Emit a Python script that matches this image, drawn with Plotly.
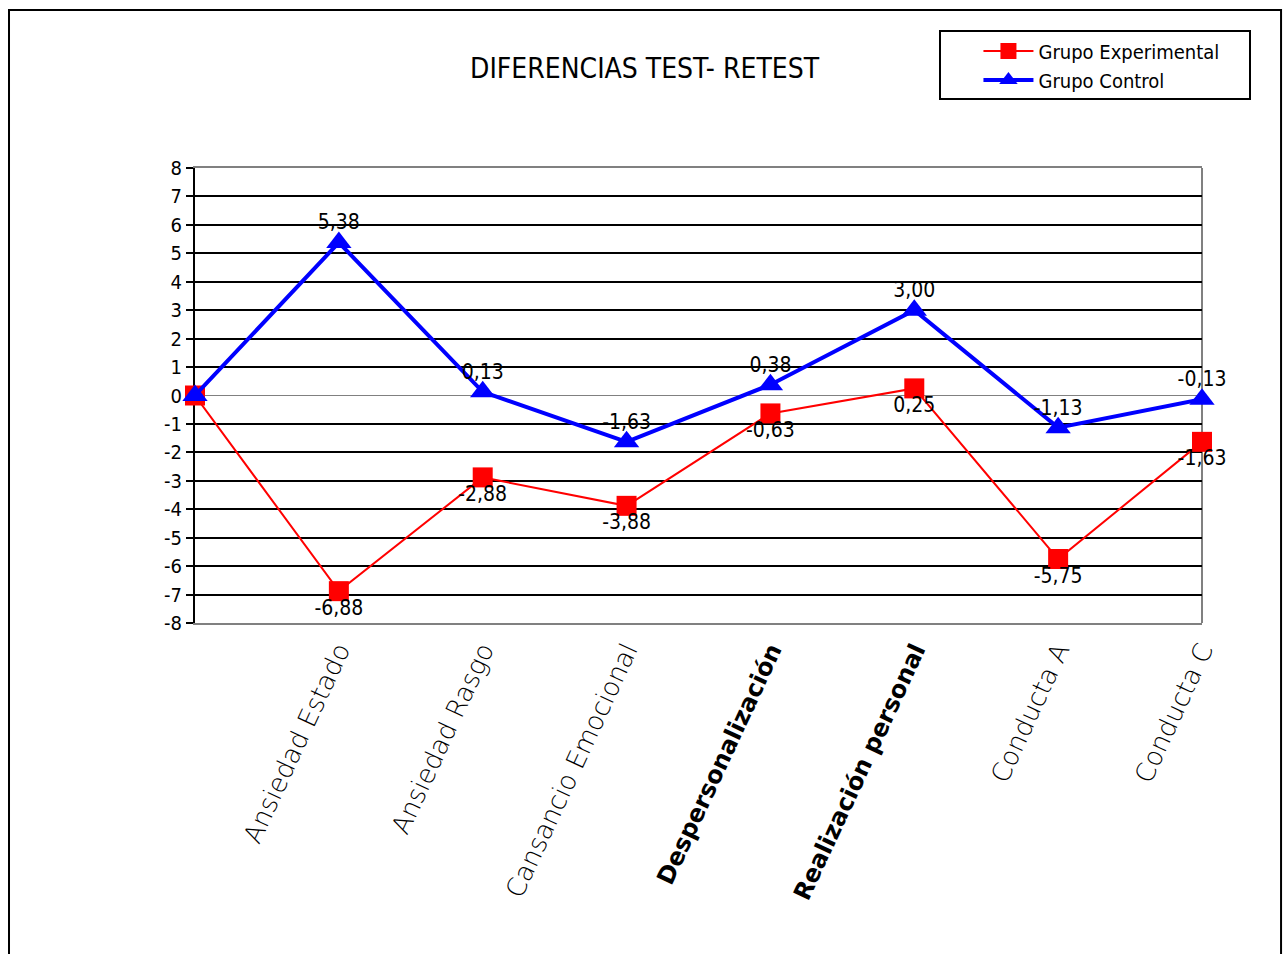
import plotly.graph_objects as go

categories = ["", "Ansiedad Estado", "Ansiedad Rasgo", "Cansancio Emocional",
              "Despersonalización", "Realización personal", "Conducta A", "Conducta C"]
bold_categories = ["Despersonalización", "Realización personal"]
experimental = [0, -6.88, -2.88, -3.88, -0.63, 0.25, -5.75, -1.63]
control = [0, 5.38, 0.13, -1.63, 0.38, 3.00, -1.13, -0.13]
y_ticks = list(range(-8, 9))

NARROW = "Liberation Sans Narrow, Arial Narrow, DejaVu Sans Condensed, sans-serif"

xs = list(range(len(categories)))


def fmt(v):
    return f"{v:.2f}".replace(".", ",")


exp_text = [""] + [fmt(v) for v in experimental[1:]]
ctl_text = [""] + [fmt(v) for v in control[1:]]

ticktext = []
for c in categories:
    if c in bold_categories:
        ticktext.append(f"<span style='font-family:DejaVu Sans;font-size:24px;font-weight:bold'><b>{c}</b></span>")
    else:
        ticktext.append(c)

fig = go.Figure()
fig.add_trace(go.Scatter(
    x=xs, y=experimental, name="Grupo Experimental", mode="lines+markers",
    line=dict(color="#FF0000", width=2),
    marker=dict(symbol="square", size=20, color="#FF0000"),
    cliponaxis=False,
))
fig.add_trace(go.Scatter(
    x=xs, y=control, name="Grupo Control", mode="lines+markers",
    line=dict(color="#0000FF", width=4),
    marker=dict(symbol="triangle-up", size=22, color="#0000FF"),
    cliponaxis=False,
))
# data labels (invisible markers only set the text offset)
fig.add_trace(go.Scatter(
    x=xs, y=experimental, mode="markers+text", showlegend=False, hoverinfo="skip",
    marker=dict(size=11, opacity=0),
    text=exp_text, textposition="bottom center",
    textfont=dict(family=NARROW, size=21, color="#000000"),
    cliponaxis=False,
))
fig.add_trace(go.Scatter(
    x=xs, y=control, mode="markers+text", showlegend=False, hoverinfo="skip",
    marker=dict(size=11, opacity=0),
    text=ctl_text, textposition="top center",
    textfont=dict(family=NARROW, size=21, color="#000000"),
    cliponaxis=False,
))

fig.update_layout(
    width=1284, height=954,
    margin=dict(l=195, r=82, t=168, b=331),
    paper_bgcolor="white", plot_bgcolor="white",
    title=dict(text="DIFERENCIAS TEST- RETEST", x=0.502, xanchor="center",
               y=1 - 68 / 954, yanchor="middle",
               font=dict(family=NARROW, size=28, color="#000000")),
    showlegend=True,
    legend=dict(x=0.778, y=1.30, xanchor="left", yanchor="top",
                borderwidth=0, bgcolor="rgba(0,0,0,0)",
                font=dict(family=NARROW, size=20, color="#000000"),
                tracegroupgap=0, itemwidth=50),
    xaxis=dict(range=[0, len(categories) - 1], tickmode="array", tickvals=xs,
               ticktext=ticktext, tickangle=-65, showgrid=False, zeroline=False,
               showline=True, linecolor="#808080", linewidth=2, mirror=True,
               ticks="", layer="below traces",
               tickfont=dict(family="DejaVu Sans, sans-serif", size=26, weight=200,
                             color="#000000")),
    yaxis=dict(range=[-8, 8], tickmode="array", tickvals=y_ticks,
               ticktext=[str(v) for v in y_ticks],
               showgrid=True, gridcolor="#000000", gridwidth=2,
               zeroline=True, zerolinecolor="#808080", zerolinewidth=1,
               showline=True, linecolor="#000000", linewidth=2,
               ticks="outside", ticklen=7, tickcolor="#000000", tickwidth=2,
               layer="below traces",
               tickfont=dict(family=NARROW, size=20, color="#000000")),
)

# right border of plot area (gray), legend frame and the outer chart frame
fig.add_shape(type="line", xref="paper", yref="paper", x0=1, x1=1, y0=0, y1=1,
              line=dict(color="#808080", width=2), layer="between")
fig.add_shape(type="rect", xref="paper", yref="paper",
              x0=(940 - 195) / 1007, x1=(1250 - 195) / 1007,
              y0=(623 - 99) / 455, y1=(623 - 31) / 455,
              line=dict(color="#000000", width=2), layer="below")
fig.add_shape(type="rect", xref="paper", yref="paper",
              x0=-0.1847, x1=1.0785, y0=-0.75, y1=1.347,
              line=dict(color="#000000", width=2), layer="below")

fig.write_html("out.html")
